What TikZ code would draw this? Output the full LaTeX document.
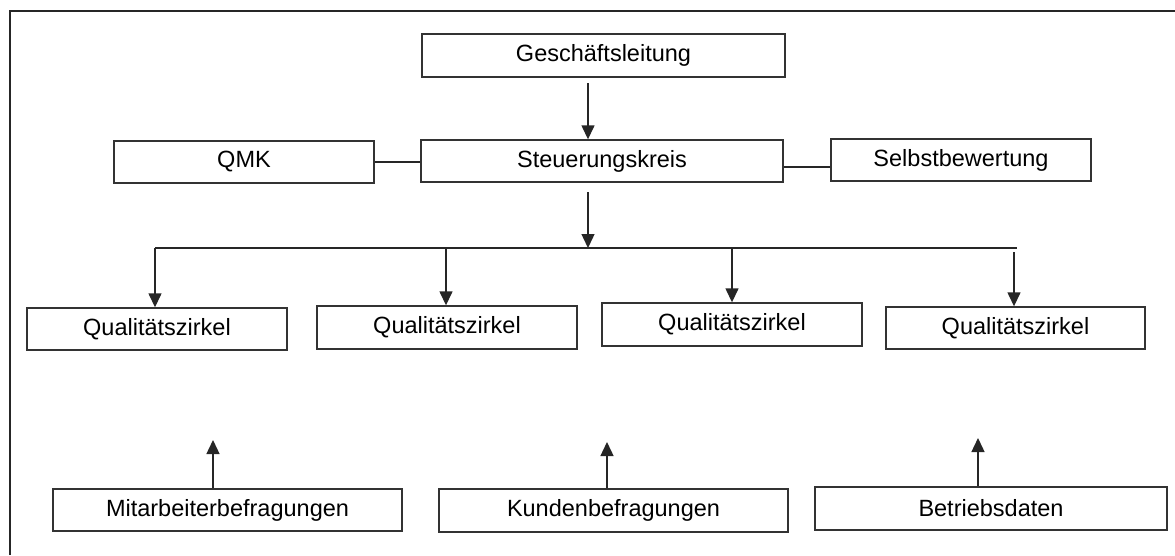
\documentclass[tikz,border=0pt]{standalone}
\usepackage{fontspec}
\setmainfont{Liberation Sans}
\usetikzlibrary{arrows.meta}
\begin{document}
\begin{tikzpicture}[x=1pt,y=-1pt,
  box/.style={draw=black!80,line width=1.4pt,inner sep=0pt,minimum height=42pt,
    font=\fontsize{23.5}{28}\selectfont},
  conn/.style={draw=black!85,line width=1.4pt},
  arr/.style={conn,-{Triangle[length=14pt,width=13pt]}}]
\useasboundingbox (0,0) rectangle (1175,555);
% frame (only top and left edges visible)
\draw[line width=2pt,black!85] (10,555) -- (10,11) -- (1175,11);
% nodes
\node[box,minimum width=363pt,minimum height=43pt] (gl) at (603.5,55.5) {Geschäftsleitung};
\node[box,minimum width=362pt] (sk) at (602,161) {Steuerungskreis};
\node[box,minimum width=260pt] (qmk) at (244,162) {QMK};
\node[box,minimum width=260pt] (sb) at (961,160) {Selbstbewertung};
\node[box,minimum width=260pt] (qz1) at (157,329) {Qualitätszirkel};
\node[box,minimum width=260pt,minimum height=43pt] (qz2) at (447,327.5) {Qualitätszirkel};
\node[box,minimum width=260pt,minimum height=43pt] (qz3) at (732,324.5) {Qualitätszirkel};
\node[box,minimum width=259pt] (qz4) at (1015.5,328) {Qualitätszirkel};
\node[box,minimum width=349pt] (mb) at (227.5,510) {Mitarbeiterbefragungen};
\node[box,minimum width=349pt,minimum height=43pt] (kb) at (613.5,510.5) {Kundenbefragungen};
\node[box,minimum width=352pt,minimum height=43pt] (bd) at (991,508.5) {Betriebsdaten};
% coordinates
\coordinate (a1) at (588,83);
\coordinate (a2) at (588,192);
\coordinate (busL) at (155,248);
\coordinate (busR) at (1017,248);
\coordinate (b2) at (446,248);
\coordinate (b3) at (732,248);
\coordinate (b4) at (1014,252);
\coordinate (u1) at (213,440);
\coordinate (u2) at (607,442);
\coordinate (u3) at (978,438);
% connectors
\draw[arr] (a1) -- (a1 |- sk.north);
\draw[conn] (qmk.east) -- (qmk.east -| sk.west);
\draw[conn] (sk.east |- 0,167) -- (sb.west |- 0,167);
\draw[arr] (a2) -- (a2 |- busL);
\draw[conn] (busL) -- (busR);
\draw[arr] (busL) -- (busL |- qz1.north);
\draw[arr] (b2) -- (b2 |- qz2.north);
\draw[arr] (b3) -- (b3 |- qz3.north);
\draw[arr] (b4) -- (b4 |- qz4.north);
\draw[arr] (u1 |- mb.north) -- (u1);
\draw[arr] (u2 |- kb.north) -- (u2);
\draw[arr] (u3 |- bd.north) -- (u3);
\end{tikzpicture}
\end{document}
